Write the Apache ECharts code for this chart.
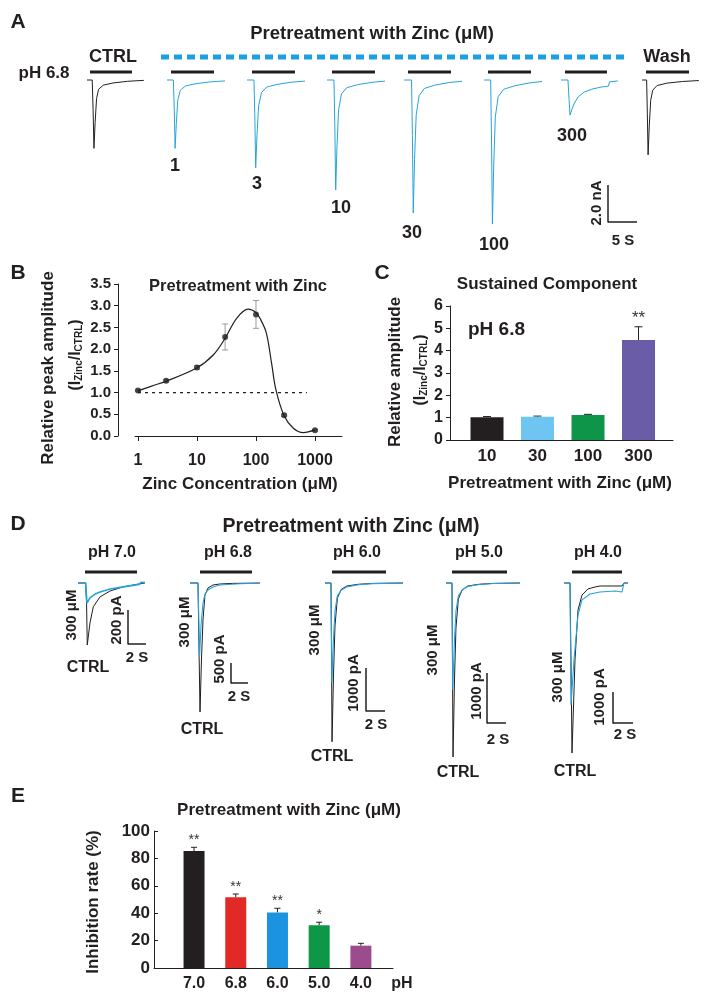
<!DOCTYPE html>
<html>
<head>
<meta charset="utf-8">
<script src="https://cdn.jsdelivr.net/npm/echarts@6/dist/echarts.min.js"></script>
<style>
html, body { margin: 0; background: #fff; }
#chart { width: 712px; height: 999px; }
</style>
</head>
<body>
<div id="chart"></div>
<script>
var fontFam = "'Liberation Sans', Arial, sans-serif";
var ink = '#231f20';
var zincBlue = '#27a3dc';

// ---- A: currents at pH 6.8, [time s, current nA]
var traceCtrl = [[0,0],[0.9,0],[1.05,-1.6],[1.2,-3.7],[1.4,-2.3],[1.65,-1.0],[2.0,-0.5],[2.8,-0.28],[4.5,-0.16],[7,-0.07],[9.8,-0.02]];
var traceZn1 = [[0,0],[1.1,0],[1.25,-1.6],[1.4,-3.7],[1.6,-2.4],[1.85,-1.1],[2.3,-0.55],[3.2,-0.32],[5,-0.2],[7.5,-0.1],[10,-0.05]];
var traceZn3 = [[0,0],[1.2,0],[1.35,-2.0],[1.5,-4.75],[1.72,-3.0],[2.0,-1.4],[2.5,-0.68],[3.4,-0.38],[5.2,-0.24],[7.6,-0.12],[10,-0.06]];
var traceZn10 = [[0,0],[1.2,0],[1.35,-2.5],[1.5,-5.95],[1.72,-3.6],[2.0,-1.6],[2.5,-0.75],[3.4,-0.42],[5.2,-0.26],[7.6,-0.13],[10,-0.06]];
var traceZn30 = [[0,0],[1.3,0],[1.45,-3.0],[1.6,-7.2],[1.82,-4.3],[2.1,-1.9],[2.6,-0.85],[3.5,-0.46],[5.3,-0.28],[7.7,-0.14],[10,-0.07]];
var traceZn100 = [[0,0],[1.15,0],[1.3,-3.3],[1.45,-7.8],[1.68,-4.6],[1.95,-2.0],[2.45,-0.9],[3.4,-0.5],[5.2,-0.32],[7.6,-0.17],[10,-0.08]];
var traceZn300 = [[0,0],[1.2,0],[1.38,-1.0],[1.55,-1.9],[1.85,-1.62],[2.3,-1.25],[3.0,-0.9],[4.0,-0.65],[5.5,-0.48],[7.0,-0.38],[8.2,-0.33],[8.35,-0.1],[9.8,-0.05]];
var traceWash = [[0,0],[0.8,0],[0.92,-1.8],[1.05,-4.05],[1.25,-2.5],[1.5,-1.1],[1.85,-0.55],[2.6,-0.3],[4.3,-0.17],[7,-0.08],[9.8,-0.03]];
var doseLabels = ['1', '3', '10', '30', '100', '300'];

// ---- B: dose response, relative peak amplitude
var concValues = [1, 3, 10, 30, 100, 300, 1000];
var peakRatio = [1.05, 1.27, 1.58, 2.28, 2.80, 0.48, 0.13];
var peakSem = [0.02, 0.03, 0.04, 0.30, 0.32, 0.03, 0.02];
var fitCurve = [[1,1.04],[1.7,1.15],[3,1.26],[10,1.57],[19,1.87],[30,2.25],[47,2.71],[74,2.92],[100,2.84],[120,2.68],[150,2.37],[184,1.67],[218,1.06],[297,0.48],[430,0.18],[635,0.08],[1000,0.14]];
var refLine = [[1, 1], [730, 1]];
var concTicks = [1, 10, 100, 1000];

// ---- C: sustained component
var sustainCats = ['10', '30', '100', '300'];
var sustainRatio = [1.02, 1.04, 1.12, 4.48];
var sustainSem = [0.03, 0.03, 0.03, 0.59];
var sustainStars = ['', '', '', '**'];
var sustainColors = ['#231f20', '#6ec5f1', '#0f954a', '#6a5ca6'];

// ---- D: 300 uM zinc at different pH, [time s, current pA]
var phLabels = ['pH 7.0', 'pH 6.8', 'pH 6.0', 'pH 5.0', 'pH 4.0'];
var dCtrl70 = [[0,0],[0.85,0],[0.95,-120],[1.03,-365],[1.33,-235],[1.7,-140],[2.44,-82],[3.56,-47],[5.0,-23],[6.1,-12],[7.2,-2],[7.44,0]];
var dZn70 = [[0,0],[0.85,0],[0.95,-80],[1.0,-118],[1.33,-88],[1.9,-65],[2.44,-53],[3.56,-35],[5.0,-23],[6.1,-14],[6.8,-8],[7.0,4],[7.44,2]];
var dCtrl68 = [[0,0],[0.94,0],[1.05,-1500],[1.18,-3225],[1.35,-1925],[1.53,-925],[1.76,-300],[2.12,-125],[2.7,-50],[3.5,-25],[5,-10],[8.24,0]];
var dZn68 = [[0,0],[0.94,0],[1.05,-1000],[1.12,-1850],[1.3,-1050],[1.53,-500],[1.76,-275],[2.12,-175],[2.7,-100],[3.5,-50],[5.9,-20],[8.24,-5]];
var dCtrl60 = [[0,0],[0.63,0],[0.68,-1500],[0.74,-3700],[0.9,-2100],[1.05,-1000],[1.3,-350],[1.7,-150],[2.3,-70],[3.5,-30],[5,-10],[8.2,0]];
var dZn60 = [[0,0],[0.63,0],[0.68,-1200],[0.72,-2330],[0.9,-1250],[1.05,-650],[1.3,-300],[1.7,-170],[2.3,-90],[3.5,-40],[5,-15],[8.2,0]];
var dCtrl50 = [[0,0],[0.63,0],[0.68,-1500],[0.74,-3480],[0.9,-1900],[1.05,-900],[1.3,-320],[1.7,-140],[2.3,-60],[3.5,-25],[5,-8],[7.8,0]];
var dZn50 = [[0,0],[0.63,0],[0.67,-1100],[0.71,-2140],[0.9,-1100],[1.05,-560],[1.3,-260],[1.7,-140],[2.3,-70],[3.5,-30],[5,-10],[7.8,0]];
var dCtrl40 = [[0,0],[0.6,0],[0.7,-2500],[0.8,-5440],[1.1,-2460],[1.4,-860],[1.8,-384],[2.4,-190],[3.1,-128],[3.6,-96],[5.8,-96],[6.0,0],[6.4,0]];
var dZn40 = [[0,0],[0.6,0],[0.65,-2000],[0.7,-3900],[1.0,-2460],[1.4,-1020],[1.8,-540],[2.6,-350],[3.6,-290],[5.1,-256],[5.8,-290],[6.0,0],[6.4,0]];

// ---- E: inhibition rate by pH
var phCats = ['7.0', '6.8', '6.0', '5.0', '4.0'];
var inhibition = [85.4, 51.6, 40.6, 31.2, 16.3];
var inhibitionSem = [2.7, 2.4, 3.0, 2.2, 1.7];
var inhibitionStars = ['**', '**', '**', '*', ''];
var inhibitionColors = ['#231f20', '#e12a26', '#1b93e0', '#0e9747', '#9c4b8c'];

var chart = echarts.init(document.getElementById('chart'));

var grids = [], xAxes = [], yAxes = [], series = [];

function traceGrid(left, top, width, height, xmax, ymin) {
    var gi = grids.length;
    grids.push({left: left, top: top, width: width, height: height});
    xAxes.push({type: 'value', gridIndex: gi, min: 0, max: xmax, show: false});
    yAxes.push({type: 'value', gridIndex: gi, min: ymin, max: 0, show: false});
    return gi;
}
function traceLine(gi, data, color, width) {
    series.push({
        type: 'line', xAxisIndex: gi, yAxisIndex: gi, data: data, showSymbol: false,
        clip: false, silent: true,
        lineStyle: {color: color, width: width || 1}
    });
}

// A traces (shared scale: 5.8 px/s, 18.5 px/nA)
var aLefts = [87, 167, 247, 327, 404, 484, 561, 642];
var aTraces = [traceCtrl, traceZn1, traceZn3, traceZn10, traceZn30, traceZn100, traceZn300, traceWash];
aTraces.forEach(function (tr, i) {
    var gi = traceGrid(aLefts[i], 80, 58, 157, 10, -8.5);
    var black = (i === 0 || i === aTraces.length - 1);
    traceLine(gi, tr, black ? ink : zincBlue, 1);
});

// D traces (each group has its own scale bar)
var dLayout = [
    {left: 78, width: 67, xmax: 7.44, height: 70, ymin: -412},
    {left: 190, width: 70, xmax: 8.24, height: 135, ymin: -3375},
    {left: 325, width: 78, xmax: 8.2, height: 165, ymin: -3845},
    {left: 446, width: 74, xmax: 7.8, height: 180, ymin: -3600},
    {left: 564, width: 64, xmax: 6.4, height: 175, ymin: -5600}
];
var dPairs = [[dCtrl70, dZn70], [dCtrl68, dZn68], [dCtrl60, dZn60], [dCtrl50, dZn50], [dCtrl40, dZn40]];
dPairs.forEach(function (p, i) {
    var L = dLayout[i];
    var gi = traceGrid(L.left, 583, L.width, L.height, L.xmax, L.ymin);
    traceLine(gi, p[0], ink, 1);
    traceLine(gi, p[1], zincBlue, i === 0 ? 1.6 : 1.1);
});

var axisText = {color: ink, fontFamily: fontFam, fontWeight: 'bold'};
var axisLineStyle = {color: ink, width: 1};

// B grid
var gB = grids.length;
grids.push({left: 135, top: 284, width: 207, height: 152});
xAxes.push({
    type: 'log', gridIndex: gB, logBase: 10, min: 0.89, max: 2870, offset: 6,
    axisLine: {show: true, lineStyle: axisLineStyle},
    axisTick: {show: true, length: 5, customValues: concTicks, lineStyle: axisLineStyle},
    axisLabel: Object.assign({customValues: concTicks, fontSize: 16, margin: 11,
        formatter: function (v) { return String(Math.round(v)); }}, axisText),
    splitLine: {show: false}, minorTick: {show: false}
});
yAxes.push({
    type: 'value', gridIndex: gB, min: 0, max: 3.5, interval: 0.5, offset: 17,
    axisLine: {show: true, onZero: false, lineStyle: axisLineStyle},
    axisTick: {show: true, length: 4, lineStyle: axisLineStyle},
    axisLabel: Object.assign({fontSize: 15, margin: 7, formatter: function (v) { return v.toFixed(1); }}, axisText),
    splitLine: {show: false}
});
series.push({
    type: 'line', xAxisIndex: gB, yAxisIndex: gB, data: refLine, showSymbol: false, silent: true,
    lineStyle: {color: ink, width: 1.3, type: [3, 4]}
});
series.push({
    type: 'line', xAxisIndex: gB, yAxisIndex: gB, data: fitCurve, showSymbol: false, silent: true,
    smooth: 0.35, lineStyle: {color: ink, width: 1.2}
});
series.push({
    type: 'custom', xAxisIndex: gB, yAxisIndex: gB, silent: true,
    data: concValues.map(function (c, i) { return [c, peakRatio[i], peakSem[i]]; }),
    renderItem: function (params, api) {
        var x = api.value(0), m = api.value(1), e = api.value(2);
        var hi = api.coord([x, m + e]), lo = api.coord([x, m - e]);
        var st = {stroke: '#9a9a9a', lineWidth: 1};
        return {type: 'group', children: [
            {type: 'line', shape: {x1: hi[0], y1: hi[1], x2: lo[0], y2: lo[1]}, style: st},
            {type: 'line', shape: {x1: hi[0] - 3, y1: hi[1], x2: hi[0] + 3, y2: hi[1]}, style: st},
            {type: 'line', shape: {x1: lo[0] - 3, y1: lo[1], x2: lo[0] + 3, y2: lo[1]}, style: st}
        ]};
    }
});
series.push({
    type: 'scatter', xAxisIndex: gB, yAxisIndex: gB, silent: true, symbolSize: 6,
    itemStyle: {color: ink},
    data: concValues.map(function (c, i) { return [c, peakRatio[i]]; })
});

// error bar + star renderer for the bar panels
function barErrorRenderer(stars, capHalf, starSize, starGap) {
    return function (params, api) {
        var x = api.value(0), m = api.value(1), e = api.value(2);
        var top = api.coord([x, m + e]), base = api.coord([x, m]);
        var st = {stroke: ink, lineWidth: 1};
        var kids = [
            {type: 'line', shape: {x1: base[0], y1: base[1], x2: top[0], y2: top[1]}, style: st},
            {type: 'line', shape: {x1: top[0] - capHalf, y1: top[1], x2: top[0] + capHalf, y2: top[1]}, style: st}
        ];
        var s = stars[params.dataIndex];
        if (s) {
            kids.push({type: 'text', x: top[0], y: top[1] - starGap, style: {
                text: s, fill: '#333', font: starSize + 'px ' + fontFam, align: 'center', verticalAlign: 'middle'
            }});
        }
        return {type: 'group', children: kids};
    };
}

// C grid
var gC = grids.length;
grids.push({left: 450, top: 306, width: 223, height: 134});
xAxes.push({
    type: 'value', gridIndex: gC, min: -0.733, max: 3.683,
    axisLine: {show: true, onZero: false, lineStyle: axisLineStyle},
    axisTick: {show: false},
    axisLabel: Object.assign({customValues: [0, 1, 2, 3], fontSize: 17, margin: 8,
        formatter: function (v) { return sustainCats[Math.round(v)]; }}, axisText),
    splitLine: {show: false}
});
yAxes.push({
    type: 'value', gridIndex: gC, min: 0, max: 6, interval: 1,
    axisLine: {show: true, onZero: false, lineStyle: axisLineStyle},
    axisTick: {show: true, length: 4, lineStyle: axisLineStyle},
    axisLabel: Object.assign({fontSize: 16, margin: 7}, axisText),
    splitLine: {show: false}
});
series.push({
    type: 'bar', xAxisIndex: gC, yAxisIndex: gC, barWidth: 33, silent: true,
    data: sustainRatio.map(function (v, i) { return {value: [i, v], itemStyle: {color: sustainColors[i]}}; })
});
series.push({
    type: 'custom', xAxisIndex: gC, yAxisIndex: gC, silent: true,
    data: sustainRatio.map(function (v, i) { return [i, v, sustainSem[i]]; }),
    renderItem: barErrorRenderer(sustainStars, 4, 17, 8)
});

// E grid
var gE = grids.length;
grids.push({left: 154, top: 831, width: 239, height: 137});
xAxes.push({
    type: 'value', gridIndex: gE, min: -0.96, max: 4.77,
    axisLine: {show: true, onZero: false, lineStyle: axisLineStyle},
    axisTick: {show: false},
    axisLabel: Object.assign({customValues: [0, 1, 2, 3, 4], fontSize: 16, margin: 8,
        formatter: function (v) { return phCats[Math.round(v)]; }}, axisText),
    splitLine: {show: false}
});
yAxes.push({
    type: 'value', gridIndex: gE, min: 0, max: 100, interval: 20,
    axisLine: {show: true, onZero: false, lineStyle: axisLineStyle},
    axisTick: {show: true, inside: true, length: 4, lineStyle: axisLineStyle},
    axisLabel: Object.assign({fontSize: 17, margin: 4}, axisText),
    splitLine: {show: false}
});
series.push({
    type: 'bar', xAxisIndex: gE, yAxisIndex: gE, barWidth: 21, silent: true,
    data: inhibition.map(function (v, i) { return {value: [i, v], itemStyle: {color: inhibitionColors[i]}}; })
});
series.push({
    type: 'custom', xAxisIndex: gE, yAxisIndex: gE, silent: true,
    data: inhibition.map(function (v, i) { return [i, v, inhibitionSem[i]]; }),
    renderItem: barErrorRenderer(inhibitionStars, 3, 14, 7)
});

// ---- annotations
var g = [];
function txt(x, y, s, size, opt) {
    opt = opt || {};
    var el = {type: 'text', x: x, y: y, silent: true, style: {
        text: s, fill: ink, font: (opt.weight || 'bold') + ' ' + size + 'px ' + fontFam,
        align: opt.align || 'center', verticalAlign: 'middle'
    }};
    if (opt.rot) el.rotation = Math.PI / 2;
    g.push(el);
}
function seg(x1, y1, x2, y2, w, color, dash) {
    var st = {stroke: color || ink, lineWidth: w || 1};
    if (dash) st.lineDash = dash;
    g.push({type: 'line', silent: true, shape: {x1: x1, y1: y1, x2: x2, y2: y2}, style: st});
}
function ratioLabel(x, y, main, sub) {
    g.push({type: 'text', x: x, y: y, rotation: Math.PI / 2, silent: true, style: {
        text: '{m|(I}{s|Zinc}{m|/I}{s|CTRL}{m|)}', align: 'center', verticalAlign: 'middle',
        rich: {
            m: {fontSize: main, fontWeight: 'bold', fontFamily: fontFam, fill: ink, verticalAlign: 'bottom', lineHeight: main + 2},
            s: {fontSize: sub, fontWeight: 'bold', fontFamily: fontFam, fill: ink, verticalAlign: 'bottom', lineHeight: main - 1}
        }
    }});
}

// panel A
txt(18, 22, 'A', 21);
txt(372, 34, 'Pretreatment with Zinc (\u03bcM)', 18.5);
txt(113, 57, 'CTRL', 18);
txt(667, 57, 'Wash', 18);
seg(161, 57, 627, 57, 5, '#1e9ee3', [8, 5]);
txt(44, 73, 'pH 6.8', 17);
var aBars = [[90, 132], [171, 214], [252, 295], [332, 375], [408, 451], [488, 531], [565, 607], [646, 689]];
aBars.forEach(function (b) { seg(b[0], 72, b[1], 72, 3); });
var aLabelPos = [[175, 166], [257, 184], [341, 208], [412, 233], [494, 245], [572, 136]];
doseLabels.forEach(function (s, i) { txt(aLabelPos[i][0], aLabelPos[i][1], s, 18); });
seg(608, 185, 608, 222.5, 1.5);
seg(608, 222, 637, 222, 1.5);
txt(597, 203, '2.0 nA', 15, {rot: true});
txt(623, 241, '5 S', 15);

// panel B
txt(18, 273, 'B', 21);
txt(238, 286, 'Pretreatment with Zinc', 16.5);
txt(48, 368, 'Relative peak amplitude', 17, {rot: true});
ratioLabel(75, 355, 16, 10);
txt(240, 484, 'Zinc Concentration (\u03bcM)', 17);

// panel C
txt(382, 273, 'C', 21);
txt(547, 284, 'Sustained Component', 17);
txt(468, 330, 'pH 6.8', 19, {align: 'left'});
txt(395, 372, 'Relative amplitude', 17, {rot: true});
ratioLabel(420, 370, 16, 10);
txt(560, 483, 'Pretreatment with Zinc (\u03bcM)', 17);

// panel D
txt(18, 524, 'D', 21);
txt(351, 527, 'Pretreatment with Zinc (\u03bcM)', 19.5);
var phX = [112, 228, 357, 479, 598];
var dBars = [[85, 137], [200, 252], [332, 386], [452, 507], [572, 622]];
var dConc = [[72, 615], [185, 622], [315, 630], [433, 650], [558, 677]];
var dCtrlPos = [[88, 668], [202, 730], [332, 757], [458, 773], [575, 772]];
var dScale = [
    {x: 128, y0: 610, y1: 644, x1: 146, lab: '200 pA', lx: 117, ly: 620, sx: 137, sy: 658},
    {x: 231, y0: 663, y1: 683, x1: 248, lab: '500 pA', lx: 220, ly: 659, sx: 239, sy: 697},
    {x: 366, y0: 668, y1: 711, x1: 385, lab: '1000 pA', lx: 354, ly: 683, sx: 376, sy: 725},
    {x: 487, y0: 673, y1: 723, x1: 506, lab: '1000 pA', lx: 477, ly: 691, sx: 498, sy: 740},
    {x: 613, y0: 692, y1: 723, x1: 633, lab: '1000 pA', lx: 600, ly: 697, sx: 625, sy: 735}
];
phLabels.forEach(function (s, i) {
    txt(phX[i], 553, s, 16);
    seg(dBars[i][0], 572, dBars[i][1], 572, 3);
    txt(dConc[i][0], dConc[i][1], '300 \u03bcM', 15, {rot: true});
    txt(dCtrlPos[i][0], dCtrlPos[i][1], 'CTRL', 16);
    var sc = dScale[i];
    seg(sc.x, sc.y0, sc.x, sc.y1 + 0.5, 1.5);
    seg(sc.x, sc.y1, sc.x1, sc.y1, 1.5);
    txt(sc.lx, sc.ly, sc.lab, 15, {rot: true});
    txt(sc.sx, sc.sy, '2 S', 15);
});

// panel E
txt(18, 796, 'E', 21);
txt(289, 810, 'Pretreatment with Zinc (\u03bcM)', 17);
txt(93, 902, 'Inhibition rate (%)', 17, {rot: true});
txt(402, 984, 'pH', 16);

chart.setOption({
    backgroundColor: '#fff',
    animation: false,
    grid: grids,
    xAxis: xAxes,
    yAxis: yAxes,
    series: series,
    graphic: g
});
</script>
</body>
</html>
